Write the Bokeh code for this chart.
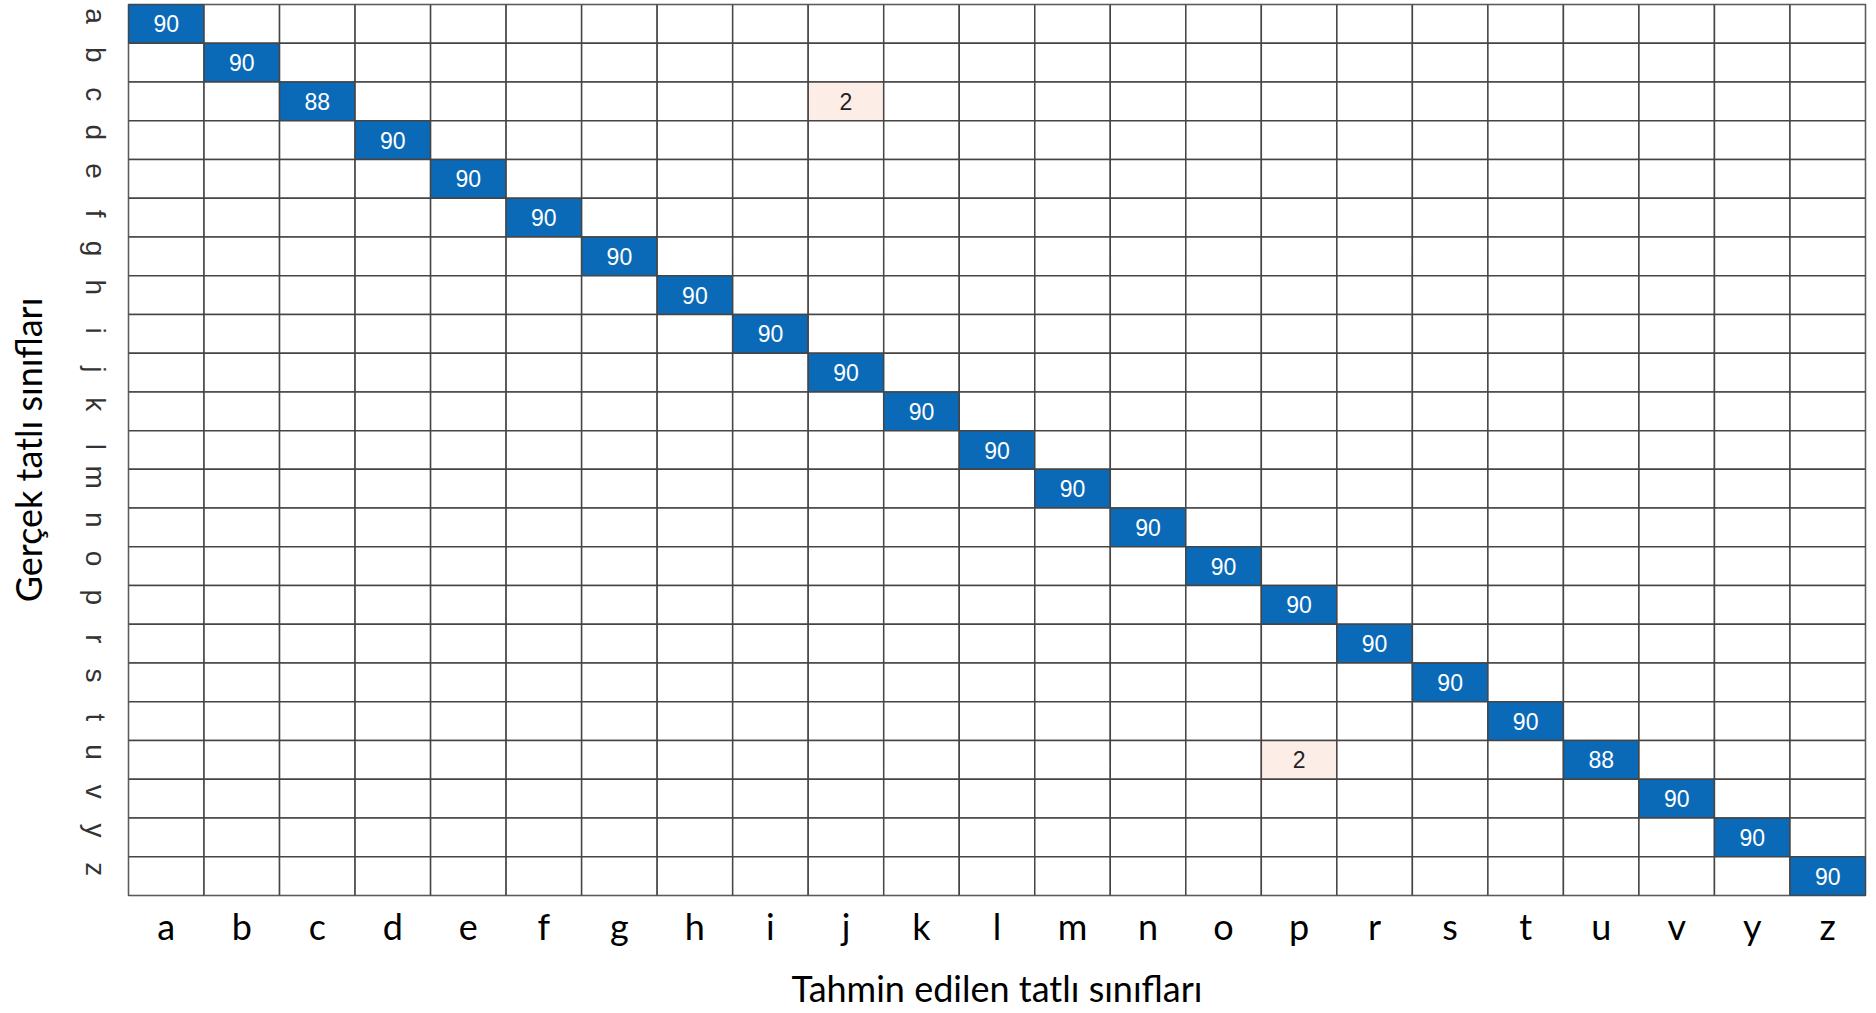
import math
from bokeh.plotting import figure
from bokeh.models import FactorRange, ColumnDataSource
from bokeh.embed import file_html
from bokeh.resources import INLINE
from bokeh.core.properties import value

# ---- data ----
classes = ["a", "b", "c", "d", "e", "f", "g", "h", "i", "j", "k", "l",
           "m", "n", "o", "p", "r", "s", "t", "u", "v", "y", "z"]
diag_counts = [90, 90, 88, 90, 90, 90, 90, 90, 90, 90, 90, 90,
               90, 90, 90, 90, 90, 90, 90, 88, 90, 90, 90]
off_true = ["c", "u"]
off_pred = ["j", "p"]
off_counts = [2, 2]
x_title = "Tahmin edilen tatlı sınıfları"
y_title = "Gerçek tatlı sınıfları"

# ---- styles ----
DIAG_COLOR = "#0a6ab8"
OFF_COLOR = "#fcede7"
GRID_COLOR = "#454545"

counts = {}
for c, v in zip(classes, diag_counts):
    counts[(c, c)] = v
for t, pr, v in zip(off_true, off_pred, off_counts):
    counts[(t, pr)] = v

xs, ys, fills = [], [], []
tx, ty, tt, tc = [], [], [], []
for t in classes:
    for pr in classes:
        v = counts.get((t, pr), 0)
        xs.append(pr)
        ys.append(t)
        if v == 0:
            fills.append("white")
        elif t == pr:
            fills.append(DIAG_COLOR)
        else:
            fills.append(OFF_COLOR)
        if v:
            tx.append(pr)
            ty.append(t)
            tt.append(str(v))
            tc.append("white" if t == pr else "#222222")

cells = ColumnDataSource(dict(x=xs, y=ys, fill=fills))
texts = ColumnDataSource(dict(x=tx, y=ty, text=tt, color=tc))

p = figure(
    width=1874, height=1012,
    x_range=FactorRange(factors=classes),
    y_range=FactorRange(factors=classes[::-1]),
    output_backend="svg", toolbar_location=None, tools="",
    min_border_left=128, min_border_right=9, min_border_top=4, min_border_bottom=117,
)

p.rect(x="x", y="y", width=1, height=1, source=cells,
       fill_color="fill", line_color=GRID_COLOR, line_width=1.5)
p.text(x="x", y="y", text="text", source=texts,
       text_align="center", text_baseline="middle", text_color="color",
       text_font=value("Liberation Sans"), text_font_size="23px")

p.grid.visible = False
p.outline_line_color = GRID_COLOR
p.outline_line_width = 1.5

for ax in (p.xaxis, p.yaxis):
    ax.axis_line_color = None
    ax.major_tick_line_color = None
    ax.minor_tick_line_color = None
    ax.major_tick_out = 0
    ax.major_tick_in = 0
    ax.minor_tick_out = 0
    ax.minor_tick_in = 0
    ax.axis_label_text_font = "Lato"
    ax.axis_label_text_font_style = "normal"
    ax.axis_label_text_font_size = "36px"
    ax.axis_label_text_color = "black"

p.xaxis.axis_label = x_title
p.xaxis.major_label_text_font = "Lato"
p.xaxis.major_label_text_font_size = "36px"
p.xaxis.major_label_text_color = "black"
p.xaxis.major_label_standoff = 8
p.xaxis.axis_label_standoff = 15

p.yaxis.axis_label = y_title
p.yaxis.major_label_text_font = "Liberation Sans"
p.yaxis.major_label_text_font_size = "28px"
p.yaxis.major_label_text_color = "#333333"
p.yaxis.major_label_orientation = -math.pi / 2
p.yaxis.major_label_standoff = 33
p.yaxis.axis_label_standoff = 12

open("out.html", "w").write(file_html(p, INLINE))
